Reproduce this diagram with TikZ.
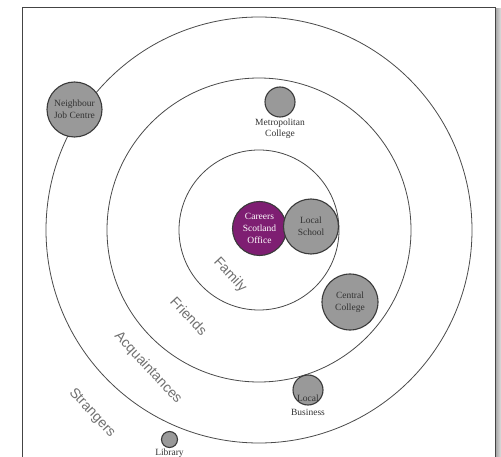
\documentclass[tikz,border=0pt]{standalone}
\usepackage{fontspec}
\setmainfont{Liberation Serif}
\newfontfamily\ringfont{Liberation Sans}
\definecolor{ringcol}{HTML}{4A4A4A}
\definecolor{orgline}{HTML}{3A3A3A}
\definecolor{orgfill}{HTML}{999999}
\definecolor{csofill}{HTML}{7E1E72}
\definecolor{txtcol}{HTML}{333333}
\definecolor{lblcol}{HTML}{707070}
\definecolor{framecol}{HTML}{444444}
\begin{document}
\begin{tikzpicture}[x=1pt,y=-1pt,
  ring/.style={draw=ringcol, line width=0.8pt},
  org/.style={circle, draw=orgline, line width=1.1pt, fill=orgfill, inner sep=0pt,
    font=\fontsize{9.5}{12}\selectfont, text=txtcol, align=center},
  orgtext/.style={font=\fontsize{9.5}{11}\selectfont, text=txtcol, align=center, inner sep=0pt},
  ringlabel/.style={font=\ringfont\fontsize{14}{16}\selectfont, text=lblcol, rotate=-47, inner sep=0pt}]
\useasboundingbox (0,0) rectangle (501,457);
\fill[white] (0,0) rectangle (501,457);
% shadow and frame
\shade[left color=gray!75, right color=gray!25] (495,9) rectangle (501,457);
\draw[framecol, line width=0.9pt] (22,457) -- (22,7) -- (495,7) -- (495,457);
% rings
\coordinate (c) at (259,230);
\draw[ring] (c) circle[radius=213pt];
\draw[ring] (c) circle[radius=152pt];
\draw[ring] (c) circle[radius=80pt];
% ring labels
\node[ringlabel] (lfam) at (230,275) {Family};
\node[ringlabel] (lfri) at (189,316) {Friends};
\node[ringlabel] (lacq) at (148,368) {Acquaintances};
\node[ringlabel] (lstr) at (92,413) {Strangers};
% organisations
\node[org, fill=csofill, text=white, minimum size=54pt] (cso) at (259.5,228.5) {Careers\\Scotland\\Office};
\node[org, minimum size=55pt] (school) at (311,226.5) {Local\\School};
\node[org, minimum size=56pt] (central) at (350,302) {Central\\College};
\node[org, minimum size=55pt] (njc) at (74.5,109.5) {Neighbour\\Job Centre};
\node[org, minimum size=30pt] (metro) at (280,102) {};
\node[orgtext] (metrol) at (280,128.5) {Metropolitan\\College};
\node[org, minimum size=30pt] (lbus) at (308,390) {};
\node[orgtext] (lbusin) at (308,398) {Local};
\node[orgtext] (lbusl) at (308,412) {Business};
\node[org, minimum size=16pt] (lib) at (169.5,439.5) {};
\node[orgtext] (libl) at (169.5,453) {Library};
\end{tikzpicture}
\end{document}
